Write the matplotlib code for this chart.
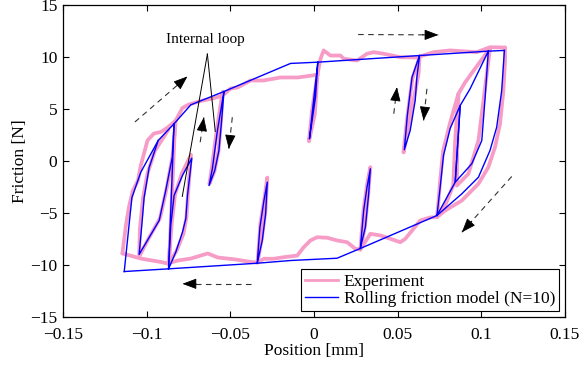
import matplotlib
matplotlib.use('Agg')
import matplotlib.pyplot as plt
from matplotlib.lines import Line2D

plt.rcParams['font.family'] = ['Liberation Serif', 'DejaVu Serif']

PINK = '#f79cc6'
BLUE = '#0000ff'

# ---- model (blue), branches in data units [mm, N] ----
outer_up_x = [-0.1134, -0.1088, -0.1035, -0.0931, -0.0836, -0.0736, -0.0538, -0.0140, 0.0023, 0.0631, 0.1042, 0.1138]
outer_up_y = [-10.63, -3.51, -1.08, 1.97, 3.58, 5.40, 6.68, 9.38, 9.50, 10.14, 10.56, 10.63]
outer_dn_x = [0.1138, 0.1122, 0.1092, 0.1052, 0.0983, 0.0884, 0.0735, 0.0277, 0.0138, -0.0140, -0.0339, -0.0869, -0.1134]
outer_dn_y = [10.63, 6.78, 3.25, 1.01, -1.56, -3.15, -5.24, -8.41, -9.35, -9.57, -9.83, -10.37, -10.63]

loop1_x = [-0.0836, -0.0847, -0.0886, -0.0925, -0.1045, -0.1029, -0.1015, -0.0985, -0.0931]
loop1_y = [3.58, 0.34, -2.84, -5.72, -8.99, -6.20, -3.51, -0.63, 1.97]
drop1_x = [-0.0836, -0.0869]
drop1_y = [3.58, -10.37]
loop2_x = [-0.0869, -0.0856, -0.0836, -0.0786, -0.0730, -0.0756, -0.0766, -0.0786, -0.0826, -0.0869]
loop2_y = [-10.37, -6.20, -3.32, -1.39, 0.27, -3.32, -5.56, -6.85, -8.77, -10.37]
loop3_x = [-0.0538, -0.0552, -0.0568, -0.0593, -0.0627, -0.0607, -0.0577, -0.0538]
loop3_y = [6.68, 3.89, 1.01, -0.91, -2.36, -0.72, 2.93, 6.68]
loop4_x = [0.0023, 0.0009, -0.0027, -0.0011, 0.0023]
loop4_y = [9.50, 6.13, 2.13, 4.54, 9.50]
loop5_x = [0.0631, 0.0615, 0.0605, 0.0575, 0.0540, 0.0558, 0.0586, 0.0631]
loop5_y = [10.14, 8.06, 5.82, 2.93, 1.08, 4.38, 8.06, 10.14]
loop6_x = [0.1042, 0.1023, 0.1003, 0.0943, 0.0844, 0.0874, 0.0933, 0.1042]
loop6_y = [10.56, 6.13, 1.97, -0.27, -2.04, 5.34, 6.94, 10.56]
loop7_x = [0.0735, 0.0754, 0.0774, 0.0814, 0.0874, 0.0844, 0.0735]
loop7_y = [-5.24, -2.55, 0.53, 3.13, 5.34, -2.04, -5.24]
spike_a_x = [-0.0339, -0.0323, -0.0299, -0.0279, -0.0289, -0.0309, -0.0339]
spike_a_y = [-9.83, -6.37, -3.80, -2.04, -5.08, -7.64, -9.83]
spike_b_x = [0.0277, 0.0297, 0.0317, 0.0337, 0.0327, 0.0307, 0.0277]
spike_b_y = [-8.41, -4.76, -2.52, -0.75, -3.15, -6.37, -8.41]

# ---- experiment (pink) ----
exp_up_x = [-0.1145, -0.1124, -0.1104, -0.1082, -0.1052, -0.1035, -0.0995, -0.0957, -0.0915, -0.0874,
            -0.0826, -0.0786, -0.0748, -0.0677, -0.0605, -0.0546, -0.0498, -0.0456, -0.0379, -0.0301,
            -0.0200, -0.0098, -0.0009, 0.0021, 0.0039, 0.0058, 0.0098, 0.0158, 0.0178, 0.0258,
            0.0317, 0.0357, 0.0416, 0.0516, 0.0615, 0.0714, 0.0814, 0.0973, 0.1052, 0.1142]
exp_up_y = [-8.89, -6.20, -4.28, -2.84, -1.88, -0.43, 1.97, 2.64, 2.79, 3.22,
            3.89, 5.10, 5.43, 5.77, 6.01, 6.30, 6.97, 7.07, 7.74, 7.74,
            8.03, 8.03, 8.22, 8.32, 9.83, 10.63, 10.14, 10.14, 9.83, 9.66,
            10.31, 10.46, 10.31, 9.98, 9.95, 10.46, 10.63, 10.46, 10.94, 10.91]
exp_dn_x = [0.1142, 0.1142, 0.1132, 0.1112, 0.1082, 0.1042, 0.0983, 0.0884, 0.0784, 0.0735,
            0.0695, 0.0635, 0.0546, 0.0516, 0.0456, 0.0397, 0.0337, 0.0277, 0.0247, 0.0198,
            0.0138, 0.0079, 0.0019, -0.0021, -0.0061, -0.0100, -0.0180, -0.0240, -0.0299, -0.0337,
            -0.0379, -0.0468, -0.0575, -0.0635, -0.0736, -0.0814, -0.0874, -0.0915, -0.1035, -0.1145]
exp_dn_y = [10.91, 9.66, 6.78, 3.58, 1.33, -0.60, -2.19, -3.80, -4.76, -5.40,
            -5.43, -5.72, -7.48, -7.81, -7.48, -7.16, -7.00, -8.51, -8.44, -7.81,
            -7.64, -7.38, -7.33, -7.64, -8.29, -9.09, -9.25, -9.40, -9.40, -9.76,
            -9.71, -9.47, -9.28, -8.89, -9.38, -9.57, -9.86, -9.71, -9.38, -8.89]

exp_loop1_x = [-0.0826, -0.0845, -0.0880, -0.0920, -0.0990, -0.1045, -0.1040, -0.1022, -0.0995, -0.0950, -0.0870]
exp_loop1_y = [3.89, 0.50, -2.60, -5.50, -7.50, -9.20, -6.50, -3.60, -1.20, 1.00, 3.00]
exp_drop1_x = [-0.0830, -0.0866]
exp_drop1_y = [3.80, -9.90]
exp_loop2_x = [-0.0869, -0.0850, -0.0830, -0.0790, -0.0735, -0.0752, -0.0762, -0.0780, -0.0820, -0.0869]
exp_loop2_y = [-9.90, -6.00, -3.20, -1.20, 0.60, -3.00, -5.40, -7.00, -8.60, -9.90]
exp_loop3_x = [-0.0546, -0.0555, -0.0570, -0.0595, -0.0625, -0.0610, -0.0585, -0.0560, -0.0546]
exp_loop3_y = [6.60, 4.00, 1.00, -1.00, -2.20, -0.60, 2.50, 5.20, 6.60]
exp_loop4_x = [0.0021, 0.0005, -0.0030, -0.0012, 0.0021]
exp_loop4_y = [8.32, 4.50, 1.90, 4.80, 8.32]
exp_loop5_x = [0.0631, 0.0625, 0.0595, 0.0565, 0.0535, 0.0558, 0.0588, 0.0631]
exp_loop5_y = [10.00, 8.38, 5.82, 3.25, 0.82, 4.30, 7.90, 10.00]
exp_loop6_x = [0.1052, 0.1013, 0.0983, 0.0923, 0.0854, 0.0856, 0.0863, 0.0903, 0.0963, 0.1052]
exp_loop6_y = [10.82, 5.82, 1.97, -1.23, -2.36, 1.01, 6.46, 7.55, 8.89, 10.82]
exp_loop7_x = [0.0735, 0.0742, 0.0754, 0.0772, 0.0814, 0.0863, 0.0844, 0.0832, 0.0784, 0.0735]
exp_loop7_y = [-5.40, -4.28, -1.88, 1.01, 3.70, 6.46, 1.97, -2.36, -4.28, -5.40]
exp_spike_a_x = [-0.0337, -0.0320, -0.0295, -0.0279, -0.0290, -0.0312, -0.0337]
exp_spike_a_y = [-9.76, -6.00, -3.50, -1.60, -4.80, -7.50, -9.76]
exp_spike_b_x = [0.0277, 0.0297, 0.0320, 0.0337, 0.0325, 0.0305, 0.0277]
exp_spike_b_y = [-8.51, -4.60, -2.00, -0.60, -3.00, -6.30, -8.51]

# ---- annotation arrows (start -> end) ----
arrow_start = [(-0.1070, 3.75), (0.0264, 12.16), (0.1182, -1.49), (-0.0379, -11.81),
               (-0.0680, 1.81), (-0.0488, 4.21), (0.0477, 4.54), (0.0675, 6.94)]
arrow_end = [(-0.0756, 8.13), (0.0744, 12.12), (0.0884, -6.85), (-0.0786, -11.81),
             (-0.0658, 4.20), (-0.0509, 1.17), (0.0496, 7.10), (0.0655, 3.89)]

label_xy = (-0.0647, 11.68)
label_vertex = (-0.0637, 10.28)
label_targets = [(-0.0787, -3.41), (-0.0590, 2.84)]

xticks = [-0.15, -0.1, -0.05, 0, 0.05, 0.1, 0.15]
xticklabels = ['\u22120.15', '\u22120.1', '\u22120.05', '0', '0.05', '0.1', '0.15']
yticks = [-15, -10, -5, 0, 5, 10, 15]
yticklabels = ['\u221215', '\u221210', '\u22125', '0', '5', '10', '15']

model_branches = [(outer_up_x, outer_up_y), (outer_dn_x, outer_dn_y), (loop1_x, loop1_y),
                  (drop1_x, drop1_y), (loop2_x, loop2_y), (loop3_x, loop3_y), (loop4_x, loop4_y),
                  (loop5_x, loop5_y), (loop6_x, loop6_y), (loop7_x, loop7_y),
                  (spike_a_x, spike_a_y), (spike_b_x, spike_b_y)]
exp_branches = [(exp_up_x, exp_up_y), (exp_dn_x, exp_dn_y), (exp_loop1_x, exp_loop1_y),
                (exp_drop1_x, exp_drop1_y), (exp_loop2_x, exp_loop2_y), (exp_loop3_x, exp_loop3_y),
                (exp_loop4_x, exp_loop4_y), (exp_loop5_x, exp_loop5_y), (exp_loop6_x, exp_loop6_y),
                (exp_loop7_x, exp_loop7_y), (exp_spike_a_x, exp_spike_a_y), (exp_spike_b_x, exp_spike_b_y)]

fig = plt.figure(figsize=(5.81, 3.66), dpi=100)
ax = fig.add_axes([0.1084, 0.1339, 0.8640, 0.8525])

for bx, by in exp_branches:
    ax.plot(bx, by, color=PINK, lw=2.7, solid_joinstyle='round', solid_capstyle='round', zorder=2)
for bx, by in model_branches:
    ax.plot(bx, by, color=BLUE, lw=1.0, zorder=3)

# dashed arrows with small solid heads
for (x0, y0), (x1, y1) in zip(arrow_start, arrow_end):
    ax.plot([x0, x1], [y0, y1], color='#333333', lw=0.8, ls=(0, (5, 4)), zorder=4)
    ax.annotate('', xy=(x1, y1), xytext=(x1 - 0.2 * (x1 - x0), y1 - 0.2 * (y1 - y0)),
                arrowprops=dict(arrowstyle='-|>,head_length=0.8,head_width=0.3', color='black',
                                lw=0.6, mutation_scale=11, shrinkA=0, shrinkB=0), zorder=5)

ax.text(label_xy[0], label_xy[1], 'Internal loop', fontsize=11, ha='center', va='center')
for tx, ty in label_targets:
    ax.plot([label_vertex[0], tx], [label_vertex[1], ty], color='black', lw=0.7, zorder=4)

ax.set_xlim(-0.15, 0.15)
ax.set_ylim(-15, 15)
ax.set_xticks(xticks)
ax.set_xticklabels(xticklabels)
ax.set_yticks(yticks)
ax.set_yticklabels(yticklabels)
ax.tick_params(direction='in', length=4, width=0.8, top=True, right=True, labelsize=12.5)
ax.tick_params(axis='x', pad=7)
ax.tick_params(axis='y', pad=4)
for s in ax.spines.values():
    s.set_linewidth(0.9)
ax.set_xlabel('Position [mm]', fontsize=12.5, labelpad=0)
ax.set_ylabel('Friction [N]', fontsize=12.5, labelpad=2)

handles = [Line2D([], [], color=PINK, lw=2.0), Line2D([], [], color=BLUE, lw=1.0)]
leg = ax.legend(handles, ['Experiment', 'Rolling friction model (N=10)'], loc='lower right',
                bbox_to_anchor=(0.9886, 0.0192), borderaxespad=0, fontsize=12.5, fancybox=False,
                framealpha=1, edgecolor='black', handlelength=1.9, handletextpad=0.3,
                labelspacing=0.05, borderpad=0.25)
leg.get_frame().set_linewidth(0.8)

fig.savefig('out.png', dpi=100)
